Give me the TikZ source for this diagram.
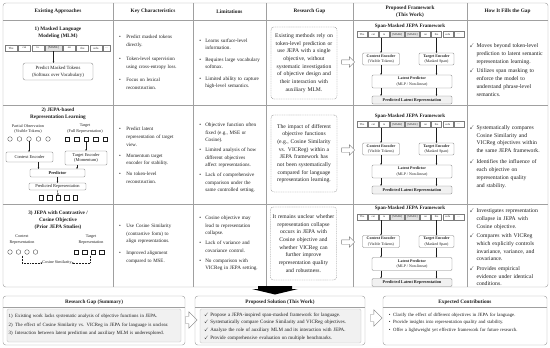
\documentclass[tikz,border=0pt]{standalone}
\usepackage{fontspec}
\setmainfont{Liberation Serif}
\usepackage{amssymb}
\usetikzlibrary{calc,arrows.meta,positioning,shapes.arrows}
\definecolor{GridLine}{HTML}{A0A0A0}
\definecolor{BoxLine}{HTML}{7C7C7C}
\definecolor{SoftFill}{HTML}{F1F1F1}
\definecolor{MaskFill}{HTML}{E4E4E4}
\definecolor{InkCol}{HTML}{1E1E1E}
\newcommand{\chk}{$\checkmark$}
\newenvironment{celllist}[4][5pt]{%
  \begin{list}{#2}{%
    \setlength{\leftmargin}{#3}\setlength{\labelsep}{#4}%
    \setlength{\labelwidth}{\dimexpr#3-#4\relax}%
    \setlength{\itemsep}{#1}\setlength{\parsep}{0pt}%
    \setlength{\topsep}{0pt}\setlength{\partopsep}{0pt}}}%
  {\end{list}}
\tikzset{
  gridline/.style={draw=GridLine, line width=0.6pt},
  cellhead/.style={font=\fontsize{7.5}{9.4}\selectfont\bfseries, align=center, inner sep=0pt},
  rowtitle/.style={font=\fontsize{7.4}{10}\selectfont\bfseries, align=center, inner sep=0pt},
  celltext/.style={font=\fontsize{7.1}{10.8}\selectfont, text width=45mm, align=left, inner sep=0pt, anchor=west},
  limtext/.style={celltext, font=\fontsize{7.3}{10.5}\selectfont},
  filltext/.style={celltext, font=\fontsize{8.1}{11}\selectfont},
  gapbox/.style={draw=BoxLine, dash pattern=on 1.5pt off 1pt, rounded corners=4pt, line width=0.45pt,
    font=\fontsize{8}{10.9}\selectfont, align=center, text width=32mm, minimum width=33mm, inner sep=0.5mm},
  fwbox/.style={draw=BoxLine, rounded corners=1.5pt, line width=0.45pt, fill=white,
    font=\fontsize{5.6}{7.8}\selectfont, align=center, inner sep=0.5pt},
  fwtitle/.style={font=\fontsize{7.2}{8}\selectfont\bfseries, inner sep=0pt},
  tok/.style={draw=BoxLine, line width=0.4pt, minimum width=5mm, minimum height=3mm, inner sep=0pt,
    font=\fontsize{4}{4}\selectfont},
  masktok/.style={tok, fill=MaskFill, minimum width=7mm},
  intok/.style={tok, minimum width=6mm, font=\fontsize{4.3}{4.3}\selectfont},
  smalllabel/.style={font=\fontsize{5.9}{8.4}\selectfont, align=center, inner sep=0pt},
  obsdot/.style={circle, draw=InkCol, line width=0.4pt, minimum size=2.3mm, inner sep=0pt},
  tgtsq/.style={draw=InkCol, line width=0.4pt, minimum size=2.3mm, inner sep=0pt},
  flow/.style={draw=InkCol, line width=0.45pt, -{Stealth[length=2.2pt, width=2.2pt]}},
  hollow/.style={single arrow, draw=BoxLine, fill=white, line width=0.5pt, inner sep=1mm,
    single arrow head extend=1.5mm, minimum height=6.5mm},
  sumbox/.style={draw=GridLine, rounded corners=4pt, line width=0.6pt},
  sumtitle/.style={font=\fontsize{7.4}{9}\selectfont\bfseries, inner sep=0pt},
  sumtext/.style={font=\fontsize{6.8}{10.8}\selectfont, text width=160mm, align=left, inner sep=0pt, anchor=west},
  innerbox/.style={draw=GridLine!70, fill=SoftFill, rounded corners=2pt, line width=0.4pt},
}
% one span-masked JEPA sketch: #1 name prefix, #2 top y
\newcommand{\spanjepa}[2]{%
  \node[fwtitle] (#1Title) at (410,#2) {Span-Masked JEPA Framework};
  \node[tok, anchor=west] (#1T1) at (357,#2+8.5) {The};
  \node[tok, right=0.4mm of #1T1] (#1T2) {cat};
  \node[tok, right=0.4mm of #1T2] (#1T3) {is};
  \node[masktok, right=0.4mm of #1T3] (#1T4) {[MASK]};
  \node[masktok, right=0.4mm of #1T4] (#1T5) {[MASK]};
  \node[tok, right=0.4mm of #1T5] (#1T6) {on};
  \node[tok, right=0.4mm of #1T6] (#1T7) {the};
  \node[tok, right=0.4mm of #1T7] (#1T8) {sofa};
  \node[tok, right=0.4mm of #1T8] (#1T9) {\dots};
  \node[fwbox, minimum width=18.5mm, minimum height=6mm] (#1Ctx) at (381,#2+33)
    {\textbf{Context Encoder}\\(Visible Tokens)};
  \node[fwbox, minimum width=17.5mm, minimum height=6mm] (#1Tgt) at (436.5,#2+33)
    {\textbf{Target Encoder}\\(Masked Span)};
  \node[fwbox, minimum width=40mm, minimum height=6.5mm] (#1Pred) at (412,#2+55.5)
    {\textbf{Latent Predictor}\\(MLP / Non-linear)};
  \node[fwbox, fill=SoftFill, minimum width=40mm, minimum height=4mm,
    font=\fontsize{6}{7}\selectfont\bfseries] (#1Out) at (412,#2+74) {Predicted Latent Representation};
  \draw[flow] (#1T3.south -| #1Ctx.north) -- (#1Ctx.north);
  \draw[flow] (#1T8.south -| #1Tgt.north) -- (#1Tgt.north);
  \draw[flow] (#1Ctx.south) -- (#1Ctx.south |- #1Pred.north);
  \draw[flow] (#1Tgt.south) -- (#1Tgt.south |- #1Pred.north);
  \draw[flow] (#1Pred.south -| #1Ctx.south) -- (#1Out.north -| #1Ctx.south);
  \draw[flow] (#1Pred.south -| #1Tgt.south) -- (#1Out.north -| #1Tgt.south);
}

\begin{document}
\begin{tikzpicture}[x=0.5mm, y=-0.5mm, every node/.append style={text=InkCol}]
  \useasboundingbox (0,0) rectangle (550,347);
  % table grid
  \draw[gridline, rounded corners=4pt] (3,3) rectangle (548,287);
  \foreach \cx in {113,193,266,353,467}
    \draw[gridline] (\cx,3) -- (\cx,287);
  \foreach \ry in {20.5,105,204}
    \draw[gridline] (3,\ry) -- (548,\ry);

  % header row
  \node[cellhead] (hExist) at (58,11.5) {Existing Approaches};
  \node[cellhead] (hKey) at (153,11.5) {Key Characteristics};
  \node[cellhead] (hLim) at (229.5,11.5) {Limitations};
  \node[cellhead] (hGap) at (309.5,11.5) {Research Gap};
  \node[cellhead] (hProp) at (410,11.5) {Proposed Framework\\(This Work)};
  \node[cellhead] (hFill) at (507.5,11.5) {How It Fills the Gap};

  % row 1: MLM
  \node[rowtitle] (mlmTitle) at (58,32.5) {1) Masked Language\\Modeling (MLM)};
  \node[intok, anchor=west] (mT1) at (5,48) {The};
  \node[intok, right=0.5mm of mT1] (mT2) {cat};
  \node[intok, right=0.5mm of mT2] (mT3) {is};
  \node[intok, fill=MaskFill, minimum width=8.5mm, right=0.5mm of mT3] (mT4) {[MASK]};
  \node[intok, right=0.5mm of mT4] (mT5) {on};
  \node[intok, right=0.5mm of mT5] (mT6) {the};
  \node[intok, right=0.5mm of mT6] (mT7) {sofa};
  \node[intok, minimum width=3.5mm, right=0.5mm of mT7] (mT8) {\dots};
  \node[fwbox, rounded corners=3pt, minimum width=35mm, minimum height=8.5mm,
    font=\fontsize{6.8}{10}\selectfont] (mlmHead) at (58,71.5)
    {Predict Masked Tokens\\(Softmax over Vocabulary)};
  \draw[flow] (mT4.south) -- (mT4.south |- mlmHead.north);

  \node[celltext] (keyA) at (115,60.5) {\begin{celllist}[9pt]{\textbullet}{16pt}{8pt}
    \item Predict masked tokens\\directly.
    \item Token-level supervision\\using cross-entropy loss.
    \item Focus on lexical\\reconstruction.
  \end{celllist}};
  \node[limtext] (limA) at (196,62) {\begin{celllist}[6pt]{\textbullet}{13pt}{6pt}
    \item Learns surface-level\\information.
    \item Requires large vocabulary\\softmax.
    \item Limited ability to capture\\high-level semantics.
  \end{celllist}};
  \node[gapbox, minimum height=36mm] (gapA) at (304,63)
    {Existing methods rely on\\token-level prediction or\\use JEPA with a single\\objective, without\\systematic investigation\\of objective design and\\their interaction with\\auxiliary MLM.};
  \node[hollow] (gArrA) at (347,62) {};
  \spanjepa{fwA}{26}
  \node[filltext] (fillA) at (469,68) {\begin{celllist}[3pt]{\chk}{10.5pt}{3pt}
    \item Moves beyond token-level\\prediction to latent semantic\\representation learning.
    \item Utilizes span masking to\\enforce the model to\\understand phrase-level\\semantics.
  \end{celllist}};

  % row 2: JEPA-based
  \node[rowtitle] (jepaTitle) at (58,113.5) {2) JEPA-based\\Representation Learning};
  \node[smalllabel] (jObsLbl) at (28,129) {Partial Observation\\(Visible Tokens)};
  \node[smalllabel] (jTgtLbl) at (85,129) {Target\\(Full Representation)};
  \foreach \i/\cx in {1/10,2/19.5,3/29,4/38.5,5/48}
    \node[obsdot] (jObs\i) at (\cx,139) {};
  \foreach \i/\cx in {1/67,2/76.5,3/86,4/95.5,5/105}
    \node[tgtsq] (jSq\i) at (\cx,139) {};
  \node[fwbox, minimum width=23.5mm, minimum height=5mm, font=\fontsize{6.3}{8}\selectfont]
    (jCtx) at (29.5,157) {Context Encoder};
  \node[fwbox, minimum width=21mm, minimum height=7mm, font=\fontsize{6.3}{8}\selectfont]
    (jTgt) at (86,158) {Target Encoder\\(Momentum)};
  \node[fwbox, minimum width=27.5mm, minimum height=4mm, font=\fontsize{6.3}{8}\selectfont\bfseries]
    (jPred) at (57.5,173) {Predictor};
  \node[fwbox, minimum width=28.5mm, minimum height=3.5mm, font=\fontsize{6.3}{8}\selectfont]
    (jOut) at (57.5,186.5) {Predicted Representation};
  \foreach \i/\cx in {1/41,2/49.5,3/58,4/66.5,5/75}
    \node[tgtsq] (jRes\i) at (\cx,197.5) {};
  \draw[flow] (jObs3.south) -- (jObs3.south |- jCtx.north);
  \draw[flow] (jSq3.south) -- (jSq3.south |- jTgt.north);
  \draw[flow] ([xshift=4.5mm]jCtx.south) -- ([xshift=4.5mm]jCtx.south |- jPred.north);
  \draw[flow] ([xshift=-4.5mm]jTgt.south) -- ([xshift=-4.5mm]jTgt.south |- jPred.north);
  \draw[flow] (jPred.south) -- (jOut.north);
  \draw[flow] (jOut.south) -- (jRes3.north);

  \node[celltext] (keyB) at (115,153.5) {\begin{celllist}[5pt]{\textbullet}{16pt}{8pt}
    \item Predict latent\\representation of target\\view.
    \item Momentum target\\encoder for stability.
    \item No token-level\\reconstruction.
  \end{celllist}};
  \node[limtext] (limB) at (196,156) {\begin{celllist}[4pt]{\textbullet}{13pt}{6pt}
    \item Objective function often\\fixed (e.g., MSE or\\Cosine).
    \item Limited analysis of how\\different objectives\\affect representations.
    \item Lack of comprehensive\\comparison under the\\same controlled setting.
  \end{celllist}};
  \node[gapbox, minimum height=38.5mm] (gapB) at (304,153.5)
    {The impact of different\\objective functions\\(e.g., Cosine Similarity\\vs. VICReg) within a\\JEPA framework has\\not been systematically\\compared for language\\representation learning.};
  \node[hollow] (gArrB) at (347,150) {};
  \spanjepa{fwB}{116}
  \node[filltext] (fillB) at (469,155) {\begin{celllist}[5pt]{\chk}{10.5pt}{3pt}
    \item Systematically compares\\Cosine Similarity and\\VICReg objectives within\\the same JEPA framework.
    \item Identifies the influence of\\each objective on\\representation quality\\and stability.
  \end{celllist}};

  % row 3: contrastive / cosine
  \node[rowtitle] (cosTitle) at (58,220) {3) JEPA with Contrastive /\\Cosine Objective\\(Prior JEPA Studies)};
  \node[smalllabel] (cCtxLbl) at (22,240) {Context\\Representation};
  \node[smalllabel] (cTgtLbl) at (91,240) {Target\\Representation};
  \foreach \i/\cx in {1/10,2/18.5,3/27,4/35.5}
    \node[obsdot] (cObs\i) at (\cx,252) {};
  \foreach \i/\cx in {1/76,2/84.5,3/93,4/101.5}
    \node[tgtsq] (cSq\i) at (\cx,252) {};
  \node[smalllabel] (cosSim) at (57,263) {Cosine Similarity};
  \coordinate (cosL) at (22,255.5);
  \coordinate (cosR) at (90.5,255.5);
  \draw[flow, dash pattern=on 1.2pt off 1pt] (cosL) |- (cosSim.west);
  \draw[flow, dash pattern=on 1.2pt off 1pt] (cosR) |- (cosSim.east);

  \node[celltext] (keyC) at (115,241.5) {\begin{celllist}[6pt]{\textbullet}{16pt}{8pt}
    \item Use Cosine Similarity\\(contrastive form) to\\align representations.
    \item Improved alignment\\compared to MSE.
  \end{celllist}};
  \node[limtext] (limC) at (196,241.5) {\begin{celllist}[4pt]{\textbullet}{13pt}{6pt}
    \item Cosine objective may\\lead to representation\\collapse.
    \item Lack of variance and\\covariance control.
    \item No comparison with\\VICReg in JEPA setting.
  \end{celllist}};
  \node[gapbox, minimum height=36.5mm] (gapC) at (303.5,243.5)
    {It remains unclear whether\\representation collapse\\occurs in JEPA with\\Cosine objective and\\whether VICReg can\\further improve\\representation quality\\and robustness.};
  \node[hollow] (gArrC) at (347,242) {};
  \spanjepa{fwC}{208.5}
  \node[filltext] (fillC) at (469,245.5) {\begin{celllist}[2.5pt]{\chk}{10.5pt}{3pt}
    \item Investigates representation\\collapse in JEPA with\\Cosine objective.
    \item Compares with VICReg\\which explicitly controls\\invariance, variance, and\\covariance.
    \item Provides empirical\\evidence under identical\\conditions.
  \end{celllist}};

  % big down arrow
  \fill[black] (258,286) -- (292,286) -- (292,289) -- (298,289) -- (275,294.5)
    -- (252,289) -- (258,289) -- cycle;

  % summary boxes
  \node[sumbox, minimum width=91mm, minimum height=24.5mm] (sumGap) at (94,320.5) {};
  \node[sumtitle] (sumGapT) at (94,302.5) {Research Gap (Summary)};
  \draw[gridline] (3,307.5) -- (185,307.5);
  \node[innerbox, minimum width=87mm, minimum height=16.5mm] (sumGapIn) at (94,325.5) {};
  \node[sumtext, font=\fontsize{6.9}{11.8}\selectfont] (sumGapList) at (8.5,322.5)
    {\begin{celllist}[0pt]{}{8pt}{3.5pt}
    \item[1)] Existing work lacks systematic analysis of objective functions in JEPA.
    \item[2)] The effect of Cosine Similarity vs. VICReg in JEPA for language is unclear.
    \item[3)] Interaction between latent prediction and auxiliary MLM is underexplored.
  \end{celllist}};
  \node[hollow, inner sep=1.8mm, single arrow head extend=2.2mm, minimum height=5.5mm]
    (sArrA) at (189.5,320) {};

  \node[sumbox, minimum width=85mm, minimum height=24.5mm] (sumSol) at (280,320.5) {};
  \node[sumtitle] (sumSolT) at (280,302.5) {Proposed Solution (This Work)};
  \draw[gridline] (195,307.5) -- (365,307.5);
  \node[innerbox, minimum width=80.5mm, minimum height=17mm] (sumSolIn) at (280.5,326) {};
  \node[sumtext, font=\fontsize{7.1}{10.8}\selectfont] (sumSolList) at (204,324.5)
    {\begin{celllist}[0pt]{\chk}{7.5pt}{2pt}
    \item Propose a JEPA-inspired span-masked framework for language.
    \item Systematically compare Cosine Similarity and VICReg objectives.
    \item Analyze the role of auxiliary MLM and its interaction with JEPA.
    \item Provide comprehensive evaluation on multiple benchmarks.
  \end{celllist}};
  \node[hollow, inner sep=1.8mm, single arrow head extend=2.2mm, minimum height=5.5mm]
    (sArrB) at (374.5,318) {};

  \node[sumbox, minimum width=82mm, minimum height=24.5mm] (sumCon) at (465,320.5) {};
  \node[sumtitle] (sumConT) at (465,302.5) {Expected Contributions};
  \draw[gridline] (383,307.5) -- (547,307.5);
  \node[sumtext] (sumConList) at (388,320.5)
    {\begin{celllist}[0pt]{\textbullet}{7pt}{3.5pt}
    \item Clarify the effect of different objectives in JEPA for language.
    \item Provide insights into representation quality and stability.
    \item Offer a lightweight yet effective framework for future research.
  \end{celllist}};
\end{tikzpicture}
\end{document}
